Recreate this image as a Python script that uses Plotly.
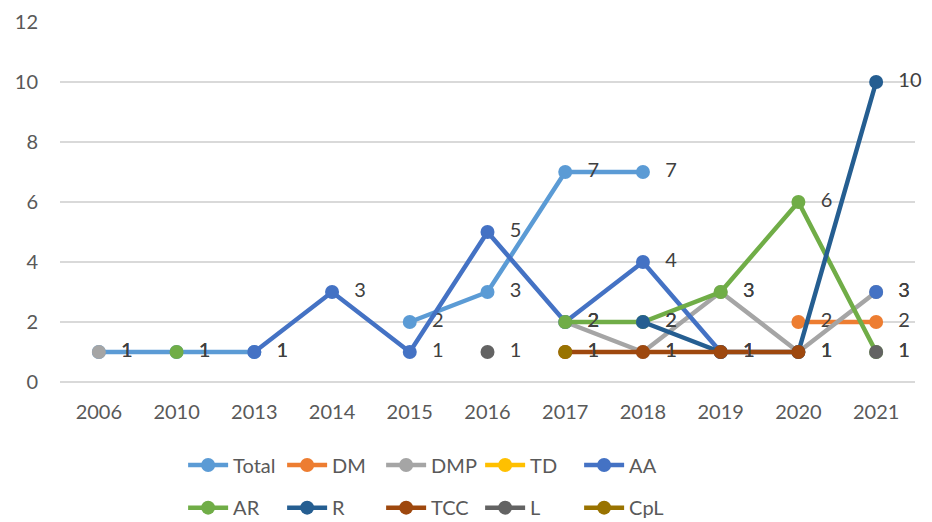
import plotly.graph_objects as go

years = ["2006", "2010", "2013", "2014", "2015", "2016", "2017", "2018", "2019", "2020", "2021"]
N = None
total = [1, 1, 1, N, 2, 3, 7, 7, N, N, N]
dm    = [N, N, N, N, N, N, N, N, N, 2, 2]
dmp   = [1, N, N, N, N, N, 2, 1, 3, 1, 3]
td    = [N, N, N, N, N, N, N, N, N, N, N]
aa    = [N, N, 1, 3, 1, 5, 2, 4, 1, N, 3]
ar    = [N, 1, N, N, N, N, 2, 2, 3, 6, 1]
r     = [N, N, N, N, N, N, N, 2, 1, 1, 10]
tcc   = [N, N, N, N, N, N, 1, 1, 1, 1, N]
l     = [N, N, N, N, N, 1, N, N, N, N, 1]
cpl   = [N, N, N, N, N, N, 1, N, N, N, N]

series = [
    ("Total", total, "#5B9BD5", "legend"),
    ("DM", dm, "#ED7D31", "legend"),
    ("DMP", dmp, "#A5A5A5", "legend"),
    ("TD", td, "#FFC000", "legend"),
    ("AA", aa, "#4472C4", "legend"),
    ("AR", ar, "#70AD47", "legend2"),
    ("R", r, "#255E91", "legend2"),
    ("TCC", tcc, "#9E480E", "legend2"),
    ("L", l, "#636363", "legend2"),
    ("CpL", cpl, "#997300", "legend2"),
]

FONT = "Lato, 'Open Sans', sans-serif"
fig = go.Figure()
for name, vals, color, lg in series:
    txt = ["\u2002\u2009" + str(v) if v is not None else "" for v in vals]
    fig.add_trace(go.Scatter(
        x=years, y=vals, name=name, legend=lg,
        mode="lines+markers+text",
        line=dict(color=color, width=4.5),
        marker=dict(color=color, size=14),
        text=txt, textposition="middle right",
        textfont=dict(color="#404040", size=20, family=FONT),
        connectgaps=False,
        cliponaxis=False,
    ))

legend_common = dict(
    orientation="h", xanchor="left", x=0.144, yanchor="middle",
    font=dict(size=20, color="#595959", family=FONT),
    entrywidth=44, entrywidthmode="pixels",
    itemwidth=40, tracegroupgap=0, bgcolor="rgba(0,0,0,0)",
    traceorder="normal",
)
fig.update_layout(
    width=924, height=514,
    margin=dict(l=52, r=17, t=14, b=140, autoexpand=False),
    plot_bgcolor="white", paper_bgcolor="white",
    font=dict(family=FONT, size=20, color="#595959"),
    showlegend=True,
    legend=dict(**legend_common, y=-0.2306),
    legend2=dict(**legend_common, y=-0.349),
    xaxis=dict(type="category", range=[-0.5, len(years) - 0.5],
               showgrid=False, showline=False, ticks="",
               tickfont=dict(size=20, color="#595959"), zeroline=False,
               automargin=False, ticklabelstandoff=16),
    yaxis=dict(range=[0, 12], dtick=2, showgrid=True, gridcolor="#D9D9D9",
               gridwidth=1.5, zeroline=True, zerolinecolor="#D9D9D9", zerolinewidth=1.5,
               showline=False, ticks="", ticklabelstandoff=21, automargin=False,
               tickfont=dict(size=20, color="#595959")),
)
fig.write_html("out.html")
